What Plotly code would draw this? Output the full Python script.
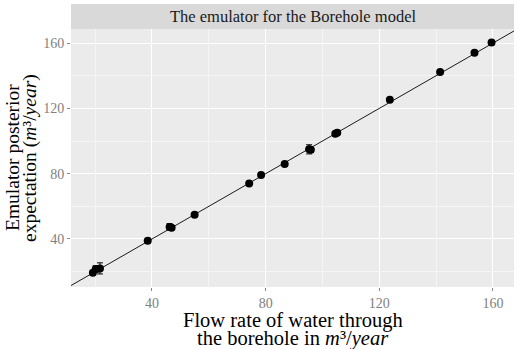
import plotly.graph_objects as go

# Data
simulator = [19.2, 20.2, 21.7, 38.5, 46.2, 46.9, 55.0, 74.2, 78.4, 86.7, 95.3, 95.9, 104.5, 105.2, 123.7, 141.4, 153.5, 159.5]
emulator  = [19.3, 21.6, 22.0, 38.9, 47.4, 46.9, 54.9, 74.0, 79.2, 85.9, 94.9, 94.6, 104.5, 105.1, 125.3, 142.3, 154.0, 160.4]
err       = [1.0, 2.0, 3.4, 0.8, 2.0, 1.2, 0.6, 0.6, 0.6, 0.6, 2.8, 1.5, 0.8, 0.8, 0.6, 0.6, 0.6, 0.6]
ref_line = [0, 200]
x_ticks = [40, 80, 120, 160]
y_ticks = [40, 80, 120, 160]
minor = [20, 60, 100, 140]
strip_title = "The emulator for the Borehole model"
x_title = ["Flow rate of water through", "the borehole in <i>m</i>³/<i>year</i>"]
y_title = ["Emulator posterior", "expectation (<i>m</i>³/<i>year</i>)"]

serif = "Liberation Serif"

fig = go.Figure()
fig.add_trace(go.Scatter(x=ref_line, y=ref_line, mode="lines",
                         line=dict(color="#1a1a1a", width=1), hoverinfo="skip", showlegend=False))
fig.add_trace(go.Scatter(x=simulator, y=emulator, mode="markers",
                         marker=dict(color="black", size=8),
                         error_y=dict(type="data", array=err, color="black", thickness=1, width=3),
                         showlegend=False))

axis_common = dict(showline=False, zeroline=False, gridcolor="white", gridwidth=1.1,
                   ticks="outside", ticklen=3, tickcolor="#888888", tickwidth=1,
                   tickfont=dict(family=serif, size=14, color="#808080"),
                   minor=dict(tickvals=minor, gridcolor="#f5f5f5", gridwidth=0.6, ticks=""))
fig.update_xaxes(range=[11.5, 167.4], tickvals=x_ticks, **axis_common)
fig.update_yaxes(range=[10.6, 168.6], tickvals=y_ticks, **axis_common)

annotations = [
    dict(text=strip_title, xref="paper", yref="paper", x=0.5, y=1 + 12.5 / 258,
         showarrow=False, xanchor="center", yanchor="middle",
         font=dict(family=serif, size=16.5, color="#1a1a1a")),
]
for t, ys in zip(x_title, [-33, -51]):
    annotations.append(dict(text=t, xref="paper", yref="paper", x=0.5, y=0, yshift=ys,
                            showarrow=False, xanchor="center", yanchor="middle",
                            font=dict(family=serif, size=20.5, color="black")))
for t, xs in zip(y_title, [-59, -41]):
    annotations.append(dict(text=t, xref="paper", yref="paper", x=0, xshift=xs, y=0.5,
                            textangle=-90, showarrow=False, xanchor="center", yanchor="middle",
                            font=dict(family=serif, size=19.5, color="black")))

fig.update_layout(
    width=519, height=349,
    margin=dict(l=71, r=5, t=29, b=62),
    plot_bgcolor="#ebebeb", paper_bgcolor="white",
    font=dict(family=serif),
    shapes=[dict(type="rect", xref="paper", yref="paper", x0=0, x1=1, y0=1, y1=1 + 25 / 258,
                 fillcolor="#d9d9d9", line=dict(width=0), layer="below")],
    annotations=annotations,
)

fig.write_html("out.html")
